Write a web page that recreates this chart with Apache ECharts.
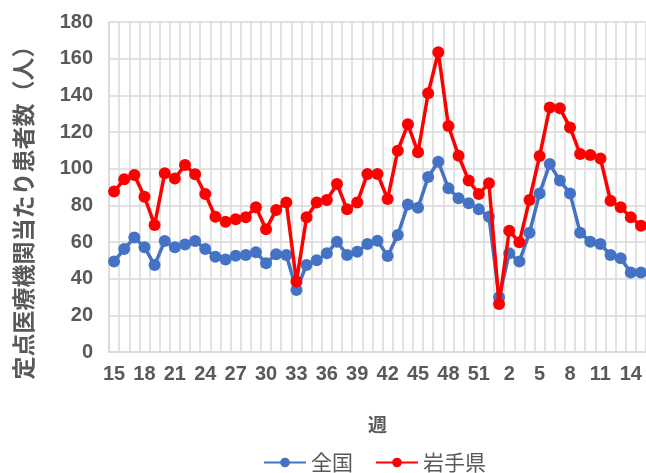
<!DOCTYPE html>
<html>
<head>
<meta charset="utf-8">
<script src="https://cdn.jsdelivr.net/npm/echarts@6/dist/echarts.min.js"></script>
<style>
html,body{margin:0;padding:0;background:#fff;}
#c{width:646px;height:473px;}
</style>
</head>
<body>
<div id="c"></div>
<script>
const weeks = ['15','16','17','18','19','20','21','22','23','24','25','26','27','28','29','30','31','32','33','34','35','36','37','38','39','40','41','42','43','44','45','46','47','48','49','50','51','52','1','2','3','4','5','6','7','8','9','10','11','12','13','14','15'];
const zenkoku = [49.3,56.2,62.4,57.1,47.5,60.5,57.1,58.7,60.5,56.2,52.0,50.5,52.5,52.9,54.4,48.4,53.3,52.9,33.8,47.5,50.0,53.8,60.2,52.9,54.7,58.9,60.7,52.4,63.8,80.5,78.7,95.4,103.8,89.3,83.8,81.1,77.8,73.8,29.8,53.8,49.3,65.0,86.5,102.5,93.5,86.5,65.1,60.2,58.9,52.9,51.1,43.3,43.3];
const iwate = [87.5,94.2,96.5,84.7,69.3,97.5,94.7,102.0,96.9,86.2,73.8,71.1,72.4,73.5,78.9,66.9,77.5,81.5,38.4,73.5,81.5,82.9,91.6,77.8,81.5,97.1,97.1,83.5,109.8,124.2,108.9,141.1,163.5,123.3,107.1,93.5,86.2,92.0,26.2,66.2,59.8,82.9,106.9,133.3,132.9,122.5,108.0,107.5,105.6,82.5,78.9,73.5,68.9];
const seriesNames = ['全国','岩手県'];
const yTitle = '定点医療機関当たり患者数（人）';
const xTitle = '週';

const chart = echarts.init(document.getElementById('c'), null, {renderer:'canvas'});
const txt = '#595959';
const font = '"Liberation Sans", Arial, "Noto Sans CJK JP", sans-serif';
chart.setOption({
  animation:false,
  backgroundColor:'#fff',
  grid:{left:109, top:22, right:0, bottom:121},
  legend:{
    data:seriesNames, left:258, top:447, itemWidth:42, itemHeight:12, itemGap:22,
    textStyle:{color:txt, fontSize:21, fontFamily:'"Noto Sans CJK JP", sans-serif'}
  },
  xAxis:{
    type:'category', data:weeks, boundaryGap:true,
    axisLine:{lineStyle:{color:'#d9d9d9', width:1.5}},
    axisTick:{show:false},
    axisLabel:{interval:2, color:txt, fontSize:20, fontWeight:'bold', fontFamily:font, margin:12},
    splitLine:{show:true, interval:0, lineStyle:{color:'#d9d9d9', width:1.5}},
    name:xTitle, nameLocation:'middle', nameGap:63,
    nameTextStyle:{color:txt, fontSize:19, fontWeight:'bold', fontFamily:'"Noto Sans CJK JP", sans-serif'}
  },
  yAxis:{
    type:'value', min:0, max:180, interval:20,
    axisLine:{show:true, lineStyle:{color:'#d9d9d9', width:1.5}},
    axisTick:{show:false},
    axisLabel:{color:txt, fontSize:20, fontWeight:'bold', fontFamily:font, margin:16},
    splitLine:{lineStyle:{color:'#d9d9d9', width:1.5}}
  },
  graphic:[{
    type:'text', x:23, y:207, rotation:Math.PI/2,
    style:{text:yTitle, fill:txt, font:'bold 23px "Noto Sans CJK JP", sans-serif', align:'center', verticalAlign:'middle'}
  }],
  series:[
    {name:seriesNames[0], type:'line', data:zenkoku, symbol:'circle', symbolSize:12, showAllSymbol:true,
     lineStyle:{color:'#4472C4', width:3.5}, itemStyle:{color:'#4472C4'}, z:2},
    {name:seriesNames[1], type:'line', data:iwate, symbol:'circle', symbolSize:12, showAllSymbol:true,
     lineStyle:{color:'#FF0000', width:3.5}, itemStyle:{color:'#FF0000'}, z:3}
  ]
});
</script>
</body>
</html>
